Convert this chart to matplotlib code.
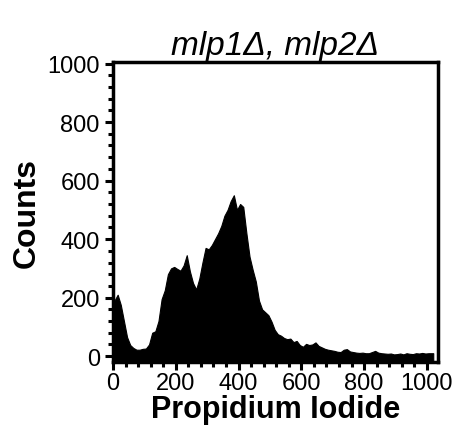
import matplotlib
matplotlib.use("Agg")
import matplotlib.pyplot as plt
import numpy as np

# Histogram data (bin width 10, 0..1020)
bin_centers = list(range(5, 1020, 10))
counts = [190, 210, 175, 120, 65, 38, 28, 22, 22, 25,
          26, 40, 80, 85, 120, 195, 225, 280, 300, 305,
          298, 292, 310, 345, 290, 250, 228, 265, 320, 370,
          365, 380, 400, 420, 445, 480, 500, 530, 550, 500,
          520, 510, 420, 340, 295, 255, 190, 160, 150, 140,
          118, 90, 75, 70, 62, 58, 60, 48, 52, 38,
          32, 42, 38, 40, 47, 35, 30, 25, 22, 20,
          18, 15, 14, 22, 24, 16, 14, 12, 11, 12,
          10, 10, 14, 18, 12, 10, 9, 8, 9, 6,
          7, 9, 6, 10, 8, 7, 10, 9, 11, 9,
          10, 10]
x_ticks = [0, 200, 400, 600, 800, 1000]
y_ticks = [0, 200, 400, 600, 800, 1000]
title = "mlp1Δ, mlp2Δ"
xlabel = "Propidium Iodide"
ylabel = "Counts"

plt.rcParams['font.family'] = ['Liberation Sans', 'DejaVu Sans']

fig = plt.figure(figsize=(4.61, 4.35), dpi=100)
ax = fig.add_axes([0.245, 0.1655, 0.705, 0.6895])

ymin = -20
xs = [0] + bin_centers + [1020]
ys = [counts[0]] + counts + [counts[-1]]
ax.fill_between(xs, ys, ymin, color='black', linewidth=0.8)
ax.set_xlim(0, 1035)
ax.set_ylim(ymin, 1005)

ax.set_xticks(x_ticks)
ax.set_yticks(y_ticks)
ax.set_xticks(np.arange(0, 1001, 40), minor=True)
ax.set_yticks(np.arange(0, 1001, 40), minor=True)
ax.tick_params(which='major', direction='out', length=5.5, width=2.2, labelsize=17, pad=2)
ax.tick_params(which='minor', direction='out', length=3.5, width=2.2)
ax.tick_params(axis='y', which='major', pad=4)
for s in ax.spines.values():
    s.set_linewidth(2.5)

ax.set_title(title, fontsize=24, style='italic', pad=6)
ax.set_xlabel(xlabel, fontsize=22, fontweight='bold', labelpad=0)
ax.set_ylabel(ylabel, fontsize=23, fontweight='bold', labelpad=4)

fig.savefig("out.png", dpi=100)
